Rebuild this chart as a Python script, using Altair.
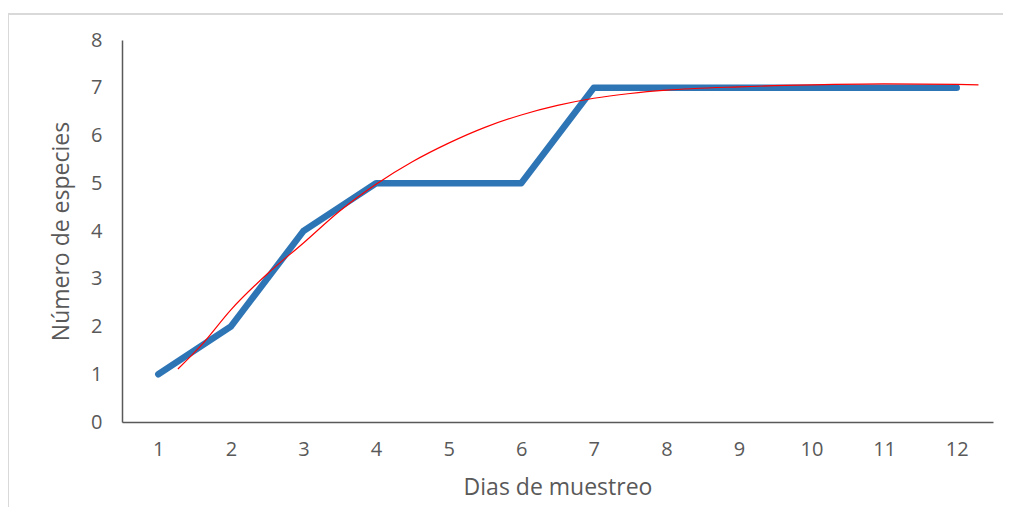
import altair as alt
import pandas as pd

dias = [1, 2, 3, 4, 5, 6, 7, 8, 9, 10, 11, 12]
especies = [1, 2, 4, 5, 5, 5, 7, 7, 7, 7, 7, 7]

# red trend curve
trend_x = [1.27, 1.6, 2.0, 2.5, 3.0, 3.5, 4.0, 4.5, 5.0, 5.5, 6.0, 6.5, 7.0, 7.5, 8.0, 9.0, 10.0, 11.0, 12.0, 12.3]
trend_y = [1.11, 1.62, 2.35, 3.1, 3.75, 4.42, 4.98, 5.45, 5.84, 6.17, 6.43, 6.63, 6.78, 6.88, 6.95, 7.02, 7.06, 7.08, 7.07, 7.06]

df = pd.DataFrame({"dia": dias, "n": especies})
dt = pd.DataFrame({"dia": trend_x, "n": trend_y})

FONT = "Open Sans"
GRAY = "#595959"

xscale = alt.Scale(domain=[0.5, 12.5], nice=False, zero=False)
yscale = alt.Scale(domain=[0, 8], nice=False)

xaxis = alt.Axis(values=dias, format="d", grid=False, ticks=False, domain=True, domainColor=GRAY,
                 domainWidth=1.5, labelColor=GRAY, labelFont=FONT, labelFontSize=20,
                 labelPadding=17, title="Dias de muestreo", titleFont=FONT,
                 titleFontSize=23, titleFontWeight="normal", titleColor=GRAY,
                 titleX=435.5, titleY=65, titleBaseline="middle", titleAlign="center")
yaxis = alt.Axis(values=[0, 1, 2, 3, 4, 5, 6, 7, 8], format="d", grid=False, ticks=False, domain=True,
                 domainColor=GRAY, domainWidth=1.5, labelColor=GRAY, labelFont=FONT,
                 labelFontSize=20, labelPadding=20, title="Número de especies",
                 titleFont=FONT, titleFontSize=23, titleFontWeight="normal",
                 titleColor=GRAY, titleX=-61, titleY=191, titleAngle=-90,
                 titleBaseline="middle", titleAlign="center")

top_border = alt.Chart(pd.DataFrame({"a": [0]})).mark_rule(
    stroke="#d9d9d9", strokeWidth=2
).encode(x=alt.value(-114), x2=alt.value(900), y=alt.value(-26))
left_border = alt.Chart(pd.DataFrame({"a": [0]})).mark_rule(
    stroke="#d9d9d9", strokeWidth=2
).encode(x=alt.value(-114), y=alt.value(-26), y2=alt.value(500))

line = alt.Chart(df).mark_line(color="#2E75B6", strokeWidth=6.5, strokeCap="round",
                               strokeJoin="round").encode(
    x=alt.X("dia:Q", scale=xscale, axis=xaxis),
    y=alt.Y("n:Q", scale=yscale, axis=yaxis),
)

trend = alt.Chart(dt).mark_line(color="#FF0000", strokeWidth=1.2, interpolate="monotone").encode(
    x=alt.X("dia:Q", scale=xscale),
    y=alt.Y("n:Q", scale=yscale),
)

chart = alt.layer(top_border, left_border, line, trend).properties(
    width=871, height=382,
    background="white",
    autosize=alt.AutoSizeParams(type="none"),
    padding={"left": 114, "top": 32, "right": 10, "bottom": 85},
).configure_view(stroke=None)

chart.save("out.html", embed_options={"renderer": "svg", "actions": False})
